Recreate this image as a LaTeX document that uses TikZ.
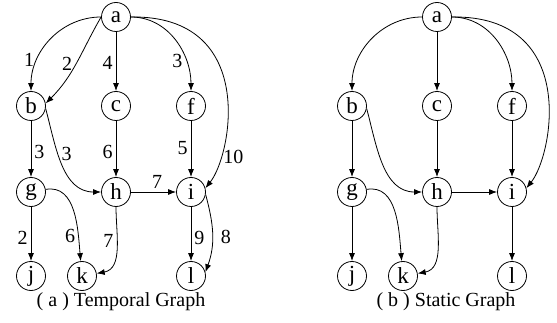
\documentclass[tikz,border=0pt]{standalone}
\usepackage{fontspec}
\setmainfont{Liberation Serif}
\usetikzlibrary{arrows.meta}

\tikzset{
  vertex/.style={circle,draw,minimum size=29pt,inner sep=0pt,font=\fontsize{23}{23}\selectfont},
  lbl/.style={font=\fontsize{20}{20}\selectfont,inner sep=3pt},
  caption/.style={font=\fontsize{20}{20}\selectfont},
}

\begin{document}
\begin{tikzpicture}[x=1pt,y=1pt,>={Latex[length=8pt,width=6pt]},line width=0.8pt]
\useasboundingbox (0,0) rectangle (557,-323);

% (a) temporal graph
\node[vertex] (ta) at (116,-17) {a};
\node[vertex] (tb) at (31,-106) {b};
\node[vertex] (tc) at (116,-106) {c};
\node[vertex] (tf) at (191,-106) {f};
\node[vertex] (tg) at (31,-192) {g};
\node[vertex] (th) at (116,-192) {h};
\node[vertex] (ti) at (191,-192) {i};
\node[vertex] (tj) at (31,-276) {j};
\node[vertex] (tk) at (82,-276) {k};
\node[vertex] (tl) at (191,-276) {l};
\node[caption] (tcap) at (121,-302) {( a ) Temporal Graph};

\draw[->] (ta) to[out=180,in=90] node[lbl,pos=0.72,left] {1} (tb);
\draw[->] (ta.west) to[out=-120,in=45] node[lbl,pos=0.52,left] {2} (tb.10);
\draw[->] (ta) -- node[lbl,pos=0.53,left] {4} (tc);
\draw[->] (ta) to[out=0,in=90] node[lbl,pos=0.72,left] {3} (tf);
\draw[->] (ta.east) .. controls (258,-15) and (232,-155) .. node[lbl,pos=0.8,right] {10} (ti.15);
\draw[->] (tb) -- node[lbl,pos=0.55,right] {3} (tg);
\draw[->] (tb.-10) to[out=-75,in=180] node[lbl,pos=0.4,right] {3} (th);
\draw[->] (tc) -- node[lbl,pos=0.55,left] {6} (th);
\draw[->] (tf) -- node[lbl,pos=0.48,left] {5} (ti);
\draw[->] (th) -- node[lbl,pos=0.58,above] {7} (ti);
\draw[->] (tg) -- node[lbl,pos=0.58,left] {2} (tj);
\draw[->] (tg) to[out=10,in=95] node[lbl,pos=0.75,left] {6} (tk);
\draw[->] (th) to[out=-90,in=10] node[lbl,pos=0.4,left] {7} (tk);
\draw[->] (ti) -- node[lbl,pos=0.57,right] {9} (tl);
\draw[->] (ti.-10) to[out=-75,in=70] node[lbl,pos=0.55,right,xshift=5] {8} (tl.15);

% (b) static graph
\begin{scope}[xshift=321]
\node[vertex] (sa) at (116,-17) {a};
\node[vertex] (sb) at (31,-106) {b};
\node[vertex] (sc) at (116,-106) {c};
\node[vertex] (sf) at (191,-106) {f};
\node[vertex] (sg) at (31,-192) {g};
\node[vertex] (sh) at (116,-192) {h};
\node[vertex] (si) at (191,-192) {i};
\node[vertex] (sj) at (31,-276) {j};
\node[vertex] (sk) at (82,-276) {k};
\node[vertex] (sl) at (191,-276) {l};
\node[caption] (scap) at (125,-302) {( b ) Static Graph};

\draw[->] (sa) to[out=180,in=90] (sb);
\draw[->] (sa) -- (sc);
\draw[->] (sa) to[out=0,in=90] (sf);
\draw[->] (sa.east) .. controls (258,-15) and (232,-155) .. (si.15);
\draw[->] (sb) -- (sg);
\draw[->] (sb.-10) to[out=-75,in=180] (sh);
\draw[->] (sc) -- (sh);
\draw[->] (sf) -- (si);
\draw[->] (sh) -- (si);
\draw[->] (sg) -- (sj);
\draw[->] (sg) to[out=10,in=95] (sk);
\draw[->] (sh) to[out=-90,in=10] (sk);
\draw[->] (si) -- (sl);
\end{scope}
\end{tikzpicture}
\end{document}
